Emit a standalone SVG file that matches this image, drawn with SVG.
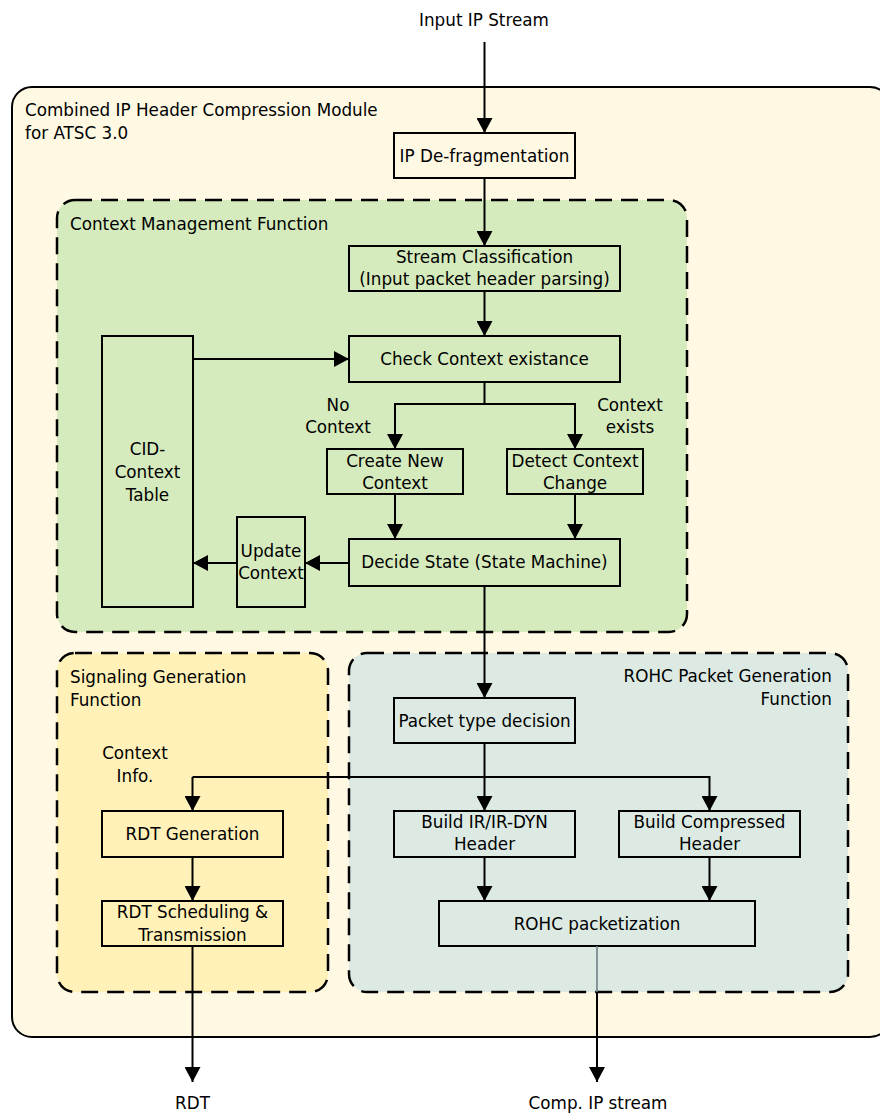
<svg xmlns="http://www.w3.org/2000/svg" width="880" height="1114" viewBox="0 0 880 1114">
<defs>
<marker id="ah" markerUnits="userSpaceOnUse" markerWidth="16" markerHeight="16" refX="15" refY="8" orient="auto" viewBox="0 0 16 16">
<path d="M0,0 L15,8 L0,16 z" fill="#000"/>
</marker>
</defs>
<style>
text{font-family:"DejaVu Sans","Verdana",sans-serif;font-size:16.8px;fill:#000;}
.c{text-anchor:middle;}
.e{text-anchor:end;}
.box{stroke:#000;stroke-width:2;}
.grp{stroke:#000;stroke-width:2.5;stroke-dasharray:17 9;}
.ln{fill:none;stroke:#000;stroke-width:2;}
.ar{fill:none;stroke:#000;stroke-width:2;marker-end:url(#ah);}
</style>
<rect width="880" height="1114" fill="#fff"/>

<g id="module">
<rect x="12" y="87" width="878" height="950" rx="20" fill="#FFF9E4" stroke="#000" stroke-width="2"/>
<text x="25" y="116">Combined IP Header Compression Module</text>
<text x="25" y="139">for ATSC 3.0</text>
</g>

<g id="context-management">
<rect class="grp" x="57" y="200" width="630" height="432" rx="18" fill="#D5EBBD"/>
<text x="70" y="230">Context Management Function</text>
</g>

<g id="signaling-generation">
<rect class="grp" x="57" y="653" width="271" height="339" rx="18" fill="#FFF1B8"/>
<text x="70" y="683">Signaling Generation</text>
<text x="70" y="706">Function</text>
</g>

<g id="rohc-generation">
<rect class="grp" x="349" y="653" width="499" height="339" rx="18" fill="#DCEAE3"/>
<text class="e" x="832" y="682">ROHC Packet Generation</text>
<text class="e" x="832" y="705">Function</text>
</g>

<g id="ip-defrag">
<rect class="box" x="394" y="133" width="181" height="45" fill="#FFF9E4"/>
<text class="c" x="484.5" y="162">IP De-fragmentation</text>
</g>

<g id="stream-class">
<rect class="box" x="349" y="246" width="271" height="45" fill="#D5EBBD"/>
<text class="c" x="484.5" y="263">Stream Classification</text>
<text class="c" x="484.5" y="285">(Input packet header parsing)</text>
</g>

<g id="check-context">
<rect class="box" x="349" y="336" width="271" height="46" fill="#D5EBBD"/>
<text class="c" x="484.5" y="365">Check Context existance</text>
</g>

<g id="cid-table">
<rect class="box" x="102" y="336" width="91" height="271" fill="#D5EBBD"/>
<text class="c" x="147.5" y="455">CID-</text>
<text class="c" x="147.5" y="478">Context</text>
<text class="c" x="147.5" y="501">Table</text>
</g>

<g id="create-context">
<rect class="box" x="327" y="449" width="136" height="45" fill="#D5EBBD"/>
<text class="c" x="395" y="467">Create New</text>
<text class="c" x="395" y="489">Context</text>
</g>

<g id="detect-change">
<rect class="box" x="507" y="449" width="136" height="45" fill="#D5EBBD"/>
<text class="c" x="575" y="467">Detect Context</text>
<text class="c" x="575" y="489">Change</text>
</g>

<g id="decide-state">
<rect class="box" x="349" y="539" width="271" height="47" fill="#D5EBBD"/>
<text class="c" x="484.5" y="568">Decide State (State Machine)</text>
</g>

<g id="update-context">
<rect class="box" x="237" y="517" width="68" height="90" fill="#D5EBBD"/>
<text class="c" x="271" y="557">Update</text>
<text class="c" x="271" y="579">Context</text>
</g>

<g id="packet-type">
<rect class="box" x="394" y="698" width="181" height="45" fill="#DCEAE3"/>
<text class="c" x="484.5" y="727">Packet type decision</text>
</g>

<g id="build-ir">
<rect class="box" x="394" y="811" width="181" height="46" fill="#DCEAE3"/>
<text class="c" x="484.5" y="828">Build IR/IR-DYN</text>
<text class="c" x="484.5" y="850">Header</text>
</g>

<g id="build-compressed">
<rect class="box" x="619" y="811" width="181" height="46" fill="#DCEAE3"/>
<text class="c" x="709.5" y="828">Build Compressed</text>
<text class="c" x="709.5" y="850">Header</text>
</g>

<g id="rohc-packetization">
<rect class="box" x="439" y="901" width="316" height="45" fill="#DCEAE3"/>
<text class="c" x="597" y="930">ROHC packetization</text>
</g>

<g id="rdt-generation">
<rect class="box" x="102" y="811" width="181" height="46" fill="#FFF1B8"/>
<text class="c" x="192.5" y="840">RDT Generation</text>
</g>

<g id="rdt-scheduling">
<rect class="box" x="102" y="901" width="181" height="45" fill="#FFF1B8"/>
<text class="c" x="192.5" y="918">RDT Scheduling &amp;</text>
<text class="c" x="192.5" y="941">Transmission</text>
</g>

<g id="labels">
<text class="c" x="484" y="26">Input IP Stream</text>
<text class="c" x="338" y="411">No</text>
<text class="c" x="338" y="433">Context</text>
<text class="c" x="630" y="411">Context</text>
<text class="c" x="630" y="433">exists</text>
<text class="c" x="135" y="759">Context</text>
<text class="c" x="135" y="782">Info.</text>
<text class="c" x="192.5" y="1109">RDT</text>
<text class="c" x="598" y="1109">Comp. IP stream</text>
</g>

<g id="connectors">
<path class="ar" d="M484.5,42 V133"/>
<path class="ar" d="M484.5,178 V246"/>
<path class="ar" d="M484.5,291 V336"/>
<path class="ar" d="M193,359 H349"/>
<path class="ar" d="M484.5,382 V404 H395 V449"/>
<path class="ar" d="M484.5,404 H575 V449"/>
<path class="ar" d="M395,494 V539"/>
<path class="ar" d="M575,494 V539"/>
<path class="ar" d="M349,563 H305"/>
<path class="ar" d="M237,563 H193"/>
<path class="ar" d="M484.5,586 V698"/>
<path class="ar" d="M484.5,743 V811"/>
<path class="ar" d="M192.5,777 H709.5 V811"/>
<path class="ar" d="M192.5,777 V811"/>
<path class="ar" d="M484.5,857 V901"/>
<path class="ar" d="M709.5,857 V901"/>
<path class="ar" d="M192.5,857 V901"/>
<path class="ar" d="M192.5,946 V1082"/>
<path d="M597,946 V992" fill="none" stroke="#6E8088" stroke-width="1.6"/>
<path class="ar" d="M597,992 V1082"/>
</g>
</svg>
